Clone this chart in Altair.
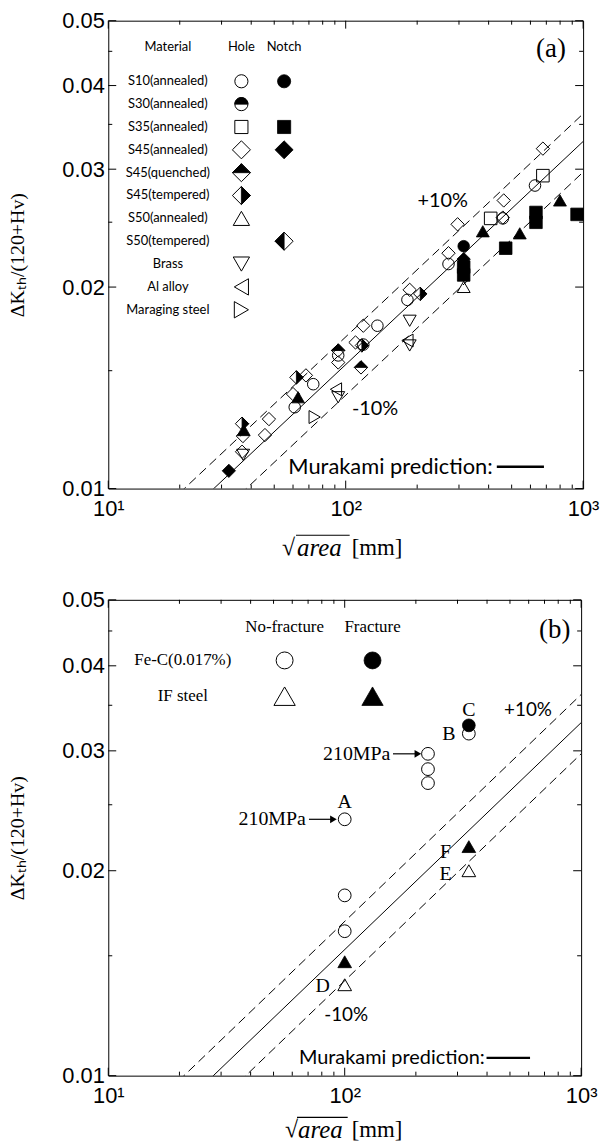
import math
import altair as alt
import pandas as pd

# ---------------- axis ticks / labels ----------------
X_MAJOR = [10, 100, 1000]
X_MINOR = [20, 30, 40, 50, 60, 70, 80, 90, 200, 300, 400, 500, 600, 700, 800, 900]
Y_MAJOR = [0.01, 0.02, 0.03, 0.04, 0.05]
Y_MINOR = [0.015, 0.025, 0.035, 0.045]
X_LABEL_EXPR = "datum.value == 10 ? '10¹' : datum.value == 100 ? '10²' : '10³'"
Y_TITLE = "ΔKₜₕ/(120+Hv)"

# ---------------- prediction lines (end points) ----------------
LINE_X = [10, 1000]
MURAKAMI_Y = [0.00711, 0.0330]
PLUS10_Y = [0.00782, 0.0363]
MINUS10_Y = [0.00640, 0.0297]

# ---------------- panel (a) data ----------------
a_circle_open_x = [627, 459, 271, 182, 136, 118.6, 93, 73, 61]
a_circle_open_y = [0.02836, 0.02533, 0.02165, 0.01914, 0.01751, 0.01641, 0.01581, 0.01432, 0.01323]
a_circle_filled_x = [314]
a_circle_filled_y = [0.02302]
a_square_open_x = [677, 408]
a_square_open_y = [0.02934, 0.02533]
a_square_filled_x = [633, 633, 943, 472, 314, 314]
a_square_filled_y = [0.02585, 0.02499, 0.02568, 0.02286, 0.02143, 0.02085]
a_diamond_open_x = [677, 463, 459, 296, 271, 186, 118.6, 110, 93, 68, 60, 36.9, 47.5, 45.7, 36.6]
a_diamond_open_y = [0.0322, 0.02694, 0.0254, 0.02482, 0.02247, 0.01981, 0.01751, 0.01653, 0.01543,
                    0.01476, 0.01384, 0.01198, 0.0127, 0.01202, 0.01135]
a_diamond_filled_x = [314, 32.2]
a_diamond_filled_y = [0.02202, 0.01063]
a_diamond_top_x = [93, 116]
a_diamond_top_y = [0.01608, 0.01517]
a_diamond_right_x = [206, 117, 62, 36.6]
a_diamond_right_y = [0.01954, 0.01636, 0.01466, 0.0125]
a_tri_up_open_x = [314]
a_tri_up_open_y = [0.02001]
a_tri_up_filled_x = [378, 541, 799, 63, 37.2]
a_tri_up_filled_y = [0.02423, 0.02406, 0.02694, 0.01369, 0.01223]
a_tri_down_open_x = [186, 186, 93, 37]
a_tri_down_open_y = [0.01781, 0.01636, 0.01369, 0.01123]
a_tri_left_open_x = [182, 91]
a_tri_left_open_y = [0.01664, 0.01407]
a_tri_right_open_x = [74]
a_tri_right_open_y = [0.01279]

A_LEG_HEADERS = ["Material", "Hole", "Notch"]
A_LEG_MATERIALS = ["S10(annealed)", "S30(annealed)", "S35(annealed)", "S45(annealed)", "S45(quenched)",
                   "S45(tempered)", "S50(annealed)", "S50(tempered)", "Brass", "Al alloy", "Maraging steel"]
A_LEG_HOLE = ["circle_open", "circle_top", "square_open", "diamond_open", "diamond_top", "diamond_right",
              "tri_up_open", None, "tri_down_open", "tri_left_open", "tri_right_open"]
A_LEG_NOTCH = ["circle_filled", None, "square_filled", "diamond_filled", None, None, None,
               "diamond_left", None, None, None]

a_pct_text = ["+10%", "-10%"]
a_pct_x = [256, 133]
a_pct_y = [0.02685, 0.01314]
a_mura_text = ["Murakami prediction:"]
a_mura_x = [416]
a_mura_y = [0.01078]
a_mura_line_x = [433]
a_mura_line_x2 = [684]
a_tag_text = ["(a)"]
a_tag_x = [732]
a_tag_y = [0.0453]

# ---------------- panel (b) data ----------------
b_circle_open_x = [100, 225, 225, 225, 335, 100, 100]
b_circle_open_y = [0.0238, 0.0297, 0.0282, 0.0269, 0.0318, 0.0184, 0.0163]
b_circle_filled_x = [335]
b_circle_filled_y = [0.0327]
b_tri_up_open_x = [335, 100]
b_tri_up_open_y = [0.0200, 0.0136]
b_tri_up_filled_x = [335, 100]
b_tri_up_filled_y = [0.0217, 0.0147]

B_LEG_HEADERS = ["", "No-fracture", "Fracture"]
B_LEG_MATERIALS = ["Fe-C(0.017%)", "IF steel"]
B_LEG_NOFRAC = ["circle_open", "tri_up_open"]
B_LEG_FRAC = ["circle_filled", "tri_up_filled"]

b_pct_text = ["+10%", "-10%"]
b_pct_x = [596, 101.4]
b_pct_y = [0.0344, 0.01228]
b_mura_text = ["Murakami prediction:"]
b_mura_x = [391]
b_mura_y = [0.01062]
b_mura_line_x = [398]
b_mura_line_x2 = [608]
b_tag_text = ["(b)"]
b_tag_x = [773]
b_tag_y = [0.0451]
b_letter_text = ["A", "B", "C", "D", "E", "F"]
b_letter_x = [100, 276, 335, 80.6, 267, 267]
b_letter_y = [0.0252, 0.0318, 0.0344, 0.01353, 0.01978, 0.0213]
b_mpa_text = ["210MPa", "210MPa"]
b_mpa_x = [156, 68.5]
b_mpa_y = [0.0297, 0.0238]
b_arrow_x = [160, 70.6]
b_arrow_x2 = [204, 89.6]
b_arrow_y = [0.0297, 0.0238]

# ---------------- marker styles ----------------
_half = [(math.cos(math.pi * k / 12), math.sin(math.pi * k / 12)) for k in range(13)]
HALF_CIRCLE_TOP = "M-1,0" + "".join("L%.3f,%.3f" % (-c, -s) for c, s in _half) + "Z"
DIAMOND_TOP = "M-1,0L0,-1L1,0Z"
DIAMOND_RIGHT = "M0,-1L1,0L0,1Z"
DIAMOND_LEFT = "M0,-1L-1,0L0,1Z"

MARKERS = {
    "circle_open": ("circle", None),
    "circle_filled": (None, "circle"),
    "circle_top": ("circle", HALF_CIRCLE_TOP),
    "square_open": ("square", None),
    "square_filled": (None, "square"),
    "diamond_open": ("diamond", None),
    "diamond_filled": (None, "diamond"),
    "diamond_top": ("diamond", DIAMOND_TOP),
    "diamond_right": ("diamond", DIAMOND_RIGHT),
    "diamond_left": ("diamond", DIAMOND_LEFT),
    "tri_up_open": ("triangle-up", None),
    "tri_up_filled": (None, "triangle-up"),
    "tri_down_open": ("triangle-down", None),
    "tri_left_open": ("triangle-left", None),
    "tri_right_open": ("triangle-right", None),
}

XS = alt.Scale(type="log", domain=[10, 1000], nice=False)
YS = alt.Scale(type="log", domain=[0.01, 0.05], nice=False)
LABEL_FONT = "Liberation Sans"
SERIF = "Liberation Serif"
CAL = "Lato"


def enc_x():
    return alt.X("x:Q", scale=XS, axis=None)


def enc_y():
    return alt.Y("y:Q", scale=YS, axis=None)


def marker_layers(groups, sizes, x_enc, y_enc, xf="x", yf="y"):
    layers = []
    for kind, (xv, yv) in groups.items():
        outline, fill = MARKERS[kind]
        d = pd.DataFrame({xf: xv, yf: yv})
        size = sizes[kind.split("_")[0]]
        if outline:
            layers.append(alt.Chart(d).mark_point(shape=outline, size=size, filled=False, color="black",
                                                  strokeWidth=1, opacity=1).encode(x=x_enc, y=y_enc))
        if fill:
            layers.append(alt.Chart(d).mark_point(shape=fill, size=size, filled=True, color="black",
                                                  stroke="black", strokeWidth=0.8, opacity=1
                                                  ).encode(x=x_enc, y=y_enc))
    return layers


def frame_ticks(W, H):
    layers = []
    for vals, L in ((X_MAJOR, 8), (X_MINOR, 4)):
        base = alt.Chart(pd.DataFrame({"x": vals})).mark_rule(color="black", strokeWidth=1)
        layers.append(base.encode(x=enc_x(), y=alt.value(H), y2=alt.value(H - L)))
        layers.append(base.encode(x=enc_x(), y=alt.value(0), y2=alt.value(L)))
    for vals, L in ((Y_MAJOR, 8), (Y_MINOR, 4)):
        base = alt.Chart(pd.DataFrame({"y": vals})).mark_rule(color="black", strokeWidth=1)
        layers.append(base.encode(y=enc_y(), x=alt.value(0), x2=alt.value(L)))
        layers.append(base.encode(y=enc_y(), x=alt.value(W), x2=alt.value(W - L)))
    return layers


def text_layer(texts, xv, yv, **kw):
    d = pd.DataFrame({"t": texts, "x": xv, "y": yv})
    return alt.Chart(d).mark_text(color="black", **kw).encode(x=enc_x(), y=enc_y(), text="t:N")


def line_layers(title_pad):
    ax_x = alt.Axis(values=X_MAJOR, labelExpr=X_LABEL_EXPR, ticks=False, tickSize=0, domain=False,
                    grid=False, labelFont=LABEL_FONT, labelFontSize=22, labelColor="black",
                    labelPadding=10, labelFlush=False, labelOverlap=False, labelBound=False, title=None,
                    orient="bottom")
    ax_y = alt.Axis(values=Y_MAJOR, format=".2f", ticks=False, tickSize=0, domain=False, grid=False,
                    labelFont=LABEL_FONT, labelFontSize=22, labelColor="black", labelPadding=4,
                    labelOverlap=False, title=Y_TITLE, titleFont=SERIF, titleFontSize=20,
                    titleFontWeight="normal", titleColor="black", titlePadding=title_pad, orient="left")
    solid = pd.DataFrame({"x": LINE_X, "y": MURAKAMI_Y})
    dashed = pd.DataFrame({"x": LINE_X + LINE_X, "y": PLUS10_Y + MINUS10_Y,
                           "line": ["p", "p", "m", "m"]})
    l1 = alt.Chart(solid).mark_line(clip=True, color="black", strokeWidth=1).encode(
        x=alt.X("x:Q", scale=XS, axis=ax_x), y=alt.Y("y:Q", scale=YS, axis=ax_y))
    l2 = alt.Chart(dashed).mark_line(clip=True, color="black", strokeWidth=1, strokeDash=[9, 5]).encode(
        x=enc_x(), y=enc_y(), detail="line:N")
    return [l1, l2]


def xtitle_layers(H, sx, ax, mx, bx2, dy, bdy):
    one = lambda t: pd.DataFrame({"t": [t]})
    return [
        alt.Chart(one("√")).mark_text(font=SERIF, fontSize=24, align="left", baseline="middle",
                                      color="black").encode(x=alt.value(sx), y=alt.value(H + dy), text="t:N"),
        alt.Chart(one("area")).mark_text(font=SERIF, fontSize=25, fontStyle="italic", align="left",
                                         baseline="middle", color="black").encode(
            x=alt.value(ax), y=alt.value(H + dy), text="t:N"),
        alt.Chart(one("[mm]")).mark_text(font=SERIF, fontSize=23, align="left", baseline="middle",
                                         color="black").encode(x=alt.value(mx), y=alt.value(H + dy), text="t:N"),
        alt.Chart(one("")).mark_rule(color="black", strokeWidth=1.2).encode(
            x=alt.value(ax - 1), x2=alt.value(bx2), y=alt.value(H + bdy)),
    ]


# ======================= panel (a) =======================
WA, HA = 478, 471
a_groups = {
    "circle_open": (a_circle_open_x, a_circle_open_y),
    "circle_filled": (a_circle_filled_x, a_circle_filled_y),
    "square_open": (a_square_open_x, a_square_open_y),
    "square_filled": (a_square_filled_x, a_square_filled_y),
    "diamond_open": (a_diamond_open_x, a_diamond_open_y),
    "diamond_filled": (a_diamond_filled_x, a_diamond_filled_y),
    "diamond_top": (a_diamond_top_x, a_diamond_top_y),
    "diamond_right": (a_diamond_right_x, a_diamond_right_y),
    "tri_up_open": (a_tri_up_open_x, a_tri_up_open_y),
    "tri_up_filled": (a_tri_up_filled_x, a_tri_up_filled_y),
    "tri_down_open": (a_tri_down_open_x, a_tri_down_open_y),
    "tri_left_open": (a_tri_left_open_x, a_tri_left_open_y),
    "tri_right_open": (a_tri_right_open_x, a_tri_right_open_y),
}
A_SIZES = {"circle": 135, "square": 160, "diamond": 180, "tri": 170}
A_LEG_SIZES = {"circle": 175, "square": 175, "diamond": 330, "tri": 270}

a_main = (line_layers(35) + frame_ticks(WA, HA) + marker_layers(a_groups, A_SIZES, enc_x(), enc_y()) + [
    text_layer(a_pct_text, a_pct_x, a_pct_y, font=CAL, fontSize=20, align="center", baseline="middle"),
    text_layer(a_mura_text, a_mura_x, a_mura_y, font=CAL, fontSize=22, align="right", baseline="middle"),
    alt.Chart(pd.DataFrame({"x": a_mura_line_x, "x2": a_mura_line_x2, "y": a_mura_y})).mark_rule(
        color="black", strokeWidth=2.5).encode(x=enc_x(), x2="x2:Q", y=enc_y()),
    text_layer(a_tag_text, a_tag_x, a_tag_y, font=SERIF, fontSize=27, align="center", baseline="middle"),
] + xtitle_layers(HA, 175, 190, 245, 243, 60, 47))

# legend (a)
LX_A = alt.Scale(domain=[0, 1, 2], range=[60, 134, 177])
LY_A = alt.Scale(domain=[0, 10], range=[61, 291])
a_leg_head = pd.DataFrame({"t": A_LEG_HEADERS, "c": [0, 1, 2], "r": [-1.5] * 3})
a_leg_mat = pd.DataFrame({"t": A_LEG_MATERIALS, "c": [0] * len(A_LEG_MATERIALS),
                          "r": list(range(len(A_LEG_MATERIALS)))})
a_leg_groups = {}
for col, kinds in ((1, A_LEG_HOLE), (2, A_LEG_NOTCH)):
    for r, k in enumerate(kinds):
        if k:
            cx, ry = a_leg_groups.setdefault(k, ([], []))
            cx.append(col)
            ry.append(r)
lx = alt.X("c:Q", scale=LX_A, axis=None)
ly = alt.Y("r:Q", scale=LY_A, axis=None)
a_legend = [
    alt.Chart(a_leg_head).mark_text(font=CAL, fontSize=13, color="black", baseline="middle").encode(
        x=lx, y=ly, text="t:N"),
    alt.Chart(a_leg_mat).mark_text(font=CAL, fontSize=13, color="black", baseline="middle").encode(
        x=lx, y=ly, text="t:N"),
] + marker_layers(a_leg_groups, A_LEG_SIZES, lx, ly, xf="c", yf="r")

panel_a = alt.layer(*(a_main + a_legend)).resolve_scale(
    x="independent", y="independent").properties(width=WA, height=HA)

# ======================= panel (b) =======================
WB, HB = 476, 479
b_groups = {
    "circle_open": (b_circle_open_x, b_circle_open_y),
    "circle_filled": (b_circle_filled_x, b_circle_filled_y),
    "tri_up_open": (b_tri_up_open_x, b_tri_up_open_y),
    "tri_up_filled": (b_tri_up_filled_x, b_tri_up_filled_y),
}
B_SIZES = {"circle": 165, "tri": 190}
B_LEG_SIZES = {"circle": 290, "tri": 460}

b_main = (line_layers(35) + frame_ticks(WB, HB) + marker_layers(b_groups, B_SIZES, enc_x(), enc_y()) + [
    text_layer(b_pct_text, b_pct_x, b_pct_y, font=CAL, fontSize=19, align="center", baseline="middle"),
    text_layer(b_mura_text, b_mura_x, b_mura_y, font=CAL, fontSize=20, align="right", baseline="middle"),
    alt.Chart(pd.DataFrame({"x": b_mura_line_x, "x2": b_mura_line_x2, "y": b_mura_y})).mark_rule(
        color="black", strokeWidth=2.5).encode(x=enc_x(), x2="x2:Q", y=enc_y()),
    text_layer(b_tag_text, b_tag_x, b_tag_y, font=SERIF, fontSize=27, align="center", baseline="middle"),
    text_layer(b_letter_text, b_letter_x, b_letter_y, font=SERIF, fontSize=20, align="center",
               baseline="middle"),
    text_layer(b_mpa_text, b_mpa_x, b_mpa_y, font=SERIF, fontSize=20, align="right", baseline="middle"),
    alt.Chart(pd.DataFrame({"x": b_arrow_x, "x2": b_arrow_x2, "y": b_arrow_y})).mark_rule(
        color="black", strokeWidth=1.2).encode(x=enc_x(), x2="x2:Q", y=enc_y()),
    alt.Chart(pd.DataFrame({"x": b_arrow_x2, "y": b_arrow_y})).mark_point(
        shape="triangle-right", size=60, filled=True, color="black", opacity=1).encode(x=enc_x(), y=enc_y()),
] + xtitle_layers(HB, 178, 191, 245, 241, 55, 42))

LX_B = alt.Scale(domain=[0, 1, 2], range=[75, 177.5, 266])
LY_B = alt.Scale(domain=[0, 1], range=[61, 97])
b_leg_head = pd.DataFrame({"t": B_LEG_HEADERS, "c": [0, 1, 2], "r": [-0.94] * 3})
b_leg_mat = pd.DataFrame({"t": B_LEG_MATERIALS, "c": [0, 0], "r": [0, 1]})
b_leg_groups = {}
for col, kinds in ((1, B_LEG_NOFRAC), (2, B_LEG_FRAC)):
    for r, k in enumerate(kinds):
        cx, ry = b_leg_groups.setdefault(k, ([], []))
        cx.append(col)
        ry.append(r)
lxb = alt.X("c:Q", scale=LX_B, axis=None)
lyb = alt.Y("r:Q", scale=LY_B, axis=None)
b_legend = [
    alt.Chart(b_leg_head).mark_text(font=SERIF, fontSize=17, color="black", baseline="middle").encode(
        x=lxb, y=lyb, text="t:N"),
    alt.Chart(b_leg_mat).mark_text(font=SERIF, fontSize=17, color="black", baseline="middle").encode(
        x=lxb, y=lyb, text="t:N"),
] + marker_layers(b_leg_groups, B_LEG_SIZES, lxb, lyb, xf="c", yf="r")

panel_b = alt.layer(*(b_main + b_legend)).resolve_scale(
    x="independent", y="independent").properties(width=WB, height=HB)

chart = alt.vconcat(panel_a, panel_b, spacing=26).properties(
    padding={"left": 6, "top": 5, "right": 0, "bottom": 0}, background="white"
).configure_view(stroke="black", strokeWidth=1)

chart.save("out.html", embed_options={"renderer": "svg", "actions": False})
